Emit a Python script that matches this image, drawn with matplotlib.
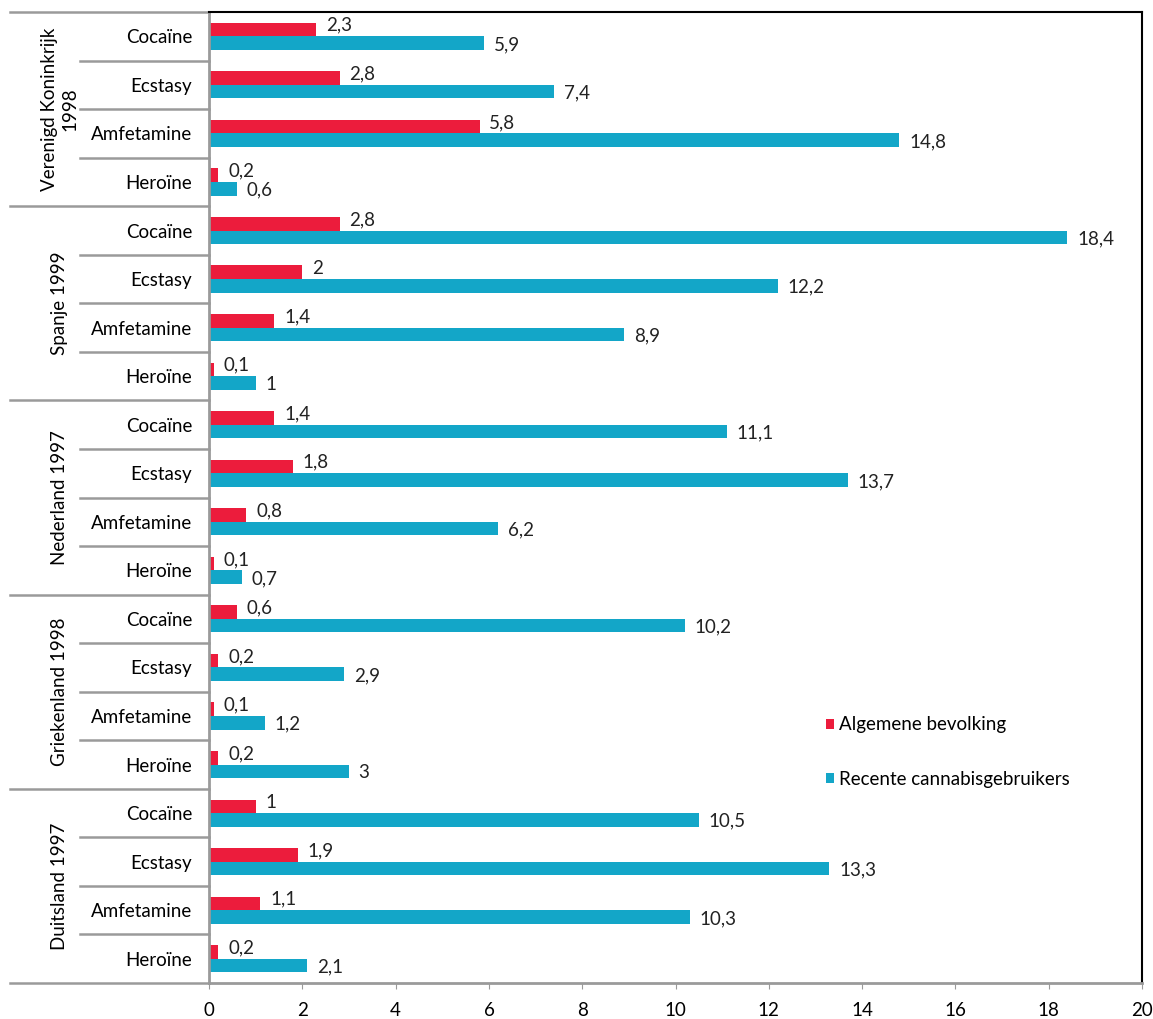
import matplotlib.pyplot as plt
import matplotlib.transforms as mtransforms

plt.rcParams['font.family'] = ['Lato', 'DejaVu Sans']

# data
groups = ['Verenigd Koninkrijk\n1998', 'Spanje 1999', 'Nederland 1997', 'Griekenland 1998', 'Duitsland 1997']
drugs = ['Cocaïne', 'Ecstasy', 'Amfetamine', 'Heroïne']
algemeen = [2.3, 2.8, 5.8, 0.2,
            2.8, 2.0, 1.4, 0.1,
            1.4, 1.8, 0.8, 0.1,
            0.6, 0.2, 0.1, 0.2,
            1.0, 1.9, 1.1, 0.2]
cannabis = [5.9, 7.4, 14.8, 0.6,
            18.4, 12.2, 8.9, 1.0,
            11.1, 13.7, 6.2, 0.7,
            10.2, 2.9, 1.2, 3.0,
            10.5, 13.3, 10.3, 2.1]
xticks = [0, 2, 4, 6, 8, 10, 12, 14, 16, 18, 20]

red = '#EC1C3C'
blue = '#13A6C8'
grey = '#9A9A9A'
fs = 13.5


def fmt(v):
    s = ('%.1f' % v).rstrip('0').rstrip('.')
    return s.replace('.', ',')


n = len(groups) * len(drugs)
pos = list(range(n))
labels = drugs * len(groups)

fig = plt.figure(figsize=(11.53, 10.19), dpi=100)
ax = fig.add_axes([0.1813, 0.0353, 0.8092, 0.9529])

h = 0.28
ax.barh([p - h / 2 for p in pos], algemeen, height=h, color=red, label='Algemene bevolking')
ax.barh([p + h / 2 for p in pos], cannabis, height=h, color=blue, label='Recente cannabisgebruikers')

for p, a, c in zip(pos, algemeen, cannabis):
    ax.annotate(fmt(a), (a, p - h / 2), xytext=(7, 3), textcoords='offset points',
                va='center', ha='left', fontsize=fs, color='#222222')
    ax.annotate(fmt(c), (c, p + h / 2), xytext=(7, -1), textcoords='offset points',
                va='center', ha='left', fontsize=fs, color='#222222')

ax.set_xlim(0, 20)
ax.set_ylim(n - 0.5, -0.5)
ax.set_xticks(xticks)
ax.set_xticklabels([str(t) for t in xticks], fontsize=fs)
ax.set_yticks(pos)
ax.set_yticklabels(labels, fontsize=fs)
ax.tick_params(axis='y', length=0, pad=12)
ax.tick_params(axis='x', length=4, color=grey, pad=10)

ax.spines['left'].set_color(grey)
ax.spines['bottom'].set_color(grey)
ax.spines['left'].set_linewidth(2)
ax.spines['bottom'].set_linewidth(2)
ax.spines['top'].set_color('black')
ax.spines['right'].set_color('black')
ax.spines['top'].set_linewidth(1.5)
ax.spines['right'].set_linewidth(1.5)

# separator lines in the category area
trans = mtransforms.blended_transform_factory(ax.transAxes, ax.transData)
for i in range(n + 1):
    y = i - 0.5
    if i % len(drugs) == 0:
        x0 = -0.213
    else:
        x0 = -0.138
    ax.plot([x0, 0], [y, y], transform=trans, color=grey, lw=1.8, clip_on=False)

for g, name in enumerate(groups):
    yc = g * len(drugs) + (len(drugs) - 1) / 2
    ax.text(-0.16, yc, name, transform=trans, rotation=90, ha='center', va='center',
            fontsize=fs, multialignment='center')

leg = ax.legend(loc='upper left', bbox_to_anchor=(0.643, 0.292), frameon=False, fontsize=fs,
                handlelength=0.45, handleheight=0.45, handletextpad=0.25, labelspacing=2.0)

plt.savefig('out.png', dpi=100)
